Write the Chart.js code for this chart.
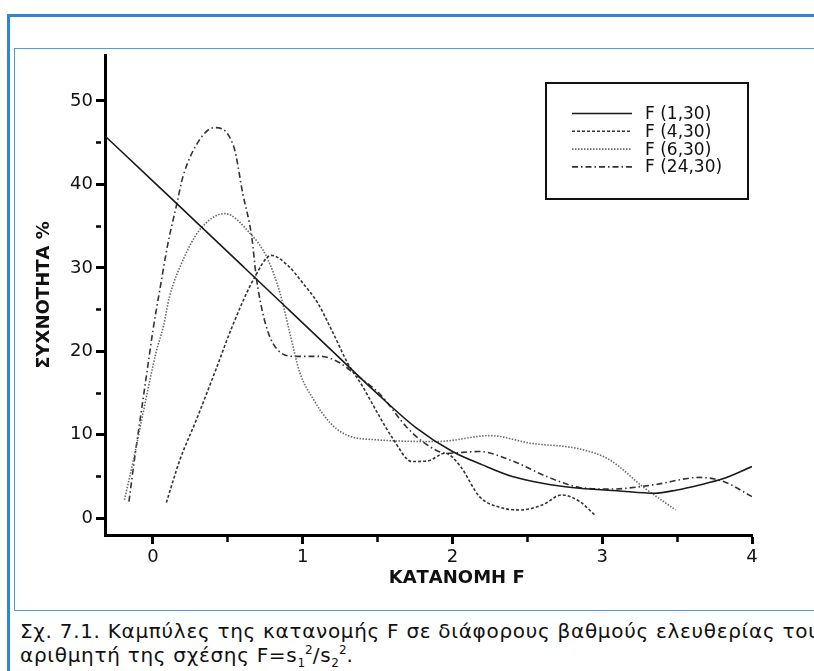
<!DOCTYPE html>
<html lang="el">
<head>
<meta charset="utf-8">
<title>Καμπύλες της κατανομής F</title>
<script src="https://cdn.jsdelivr.net/npm/chart.js@4.4.0/dist/chart.umd.min.js"></script>
<style>
  html, body { margin: 0; padding: 0; background: #fff; overflow: hidden; }
  body { width: 814px; height: 671px; position: relative; }
  #outer {
    position: absolute; left: 7px; top: 14px; width: 900px; height: 700px;
    border-top: 3px solid #2b86d8; border-left: 3px solid #2b86d8;
  }
  #inner {
    position: absolute; left: 14px; top: 48px; width: 900px; height: 561px;
    border: 1.5px solid #4d9ce2;
  }
  #chartBox { position: absolute; left: 15px; top: 50px; width: 800px; height: 560px; }
  #caption {
    position: absolute; left: 20px; top: 619px; white-space: nowrap;
    font-family: "DejaVu Sans", sans-serif; font-size: 20px; letter-spacing: 0.7px;
    line-height: 24px; color: #111;
  }
  #caption sub, #caption sup { font-size: 12px; line-height: 0; letter-spacing: 0; }
</style>
</head>
<body>
<div id="outer"></div>
<div id="inner"></div>
<div id="chartBox"><canvas id="chart" width="800" height="560"></canvas></div>
<div id="caption">Σχ. 7.1. Καμπύλες της κατανομής F σε διάφορους βαθμούς ελευθερίας του<br>αριθμητή της σχέσης F=s<sub>1</sub><sup>2</sup>/s<sub>2</sub><sup>2</sup>.</div>
<script>
// καμπύλες (τιμές διαβασμένες από το σχήμα)
const f1_x = [-0.32, 0, 0.3, 0.6, 0.9, 1.2, 1.5, 1.76, 2.0, 2.2, 2.4, 2.6, 2.85, 3.1, 3.35, 3.5, 3.65, 3.8, 4.0];
const f1_y = [45.8, 40.4, 35.3, 30.2, 25.1, 20.0, 14.9, 10.8, 8.0, 6.4, 5.0, 4.2, 3.6, 3.3, 3.0, 3.4, 4.0, 4.7, 6.2];

const f4_x = [0.09, 0.18, 0.29, 0.42, 0.53, 0.68, 0.79, 0.9, 1.0, 1.1, 1.2, 1.3, 1.4, 1.5, 1.6, 1.73, 1.84, 1.95, 2.05, 2.18, 2.3, 2.45, 2.6, 2.73, 2.85, 2.95];
const f4_y = [1.9, 7.0, 11.8, 17.8, 23.0, 28.9, 31.5, 30.3, 28.2, 25.8, 22.3, 18.6, 15.8, 12.6, 9.6, 6.8, 6.9, 7.8, 6.3, 2.6, 1.4, 1.0, 1.6, 2.8, 2.0, 0.4];

const f6_x = [-0.19, -0.13, -0.075, 0.02, 0.07, 0.11, 0.2, 0.31, 0.48, 0.65, 0.76, 0.85, 0.91, 0.98, 1.07, 1.18, 1.29, 1.5, 1.9, 2.25, 2.52, 2.85, 3.05, 3.27, 3.49];
const f6_y = [2.2, 7.0, 11.8, 19.8, 23.0, 26.5, 30.9, 34.5, 36.5, 34.1, 31.3, 26.9, 22.5, 17.5, 14.3, 11.5, 10.0, 9.4, 9.2, 9.9, 9.0, 8.3, 7.0, 3.8, 1.0];

const f24_x = [-0.16, -0.12, -0.08, -0.04, 0.0, 0.05, 0.10, 0.16, 0.2, 0.31, 0.41, 0.54, 0.6, 0.66, 0.69, 0.74, 0.8, 0.94, 1.12, 1.25, 1.34, 1.52, 1.69, 1.8, 1.96, 2.18, 2.41, 2.63, 2.85, 3.05, 3.34, 3.65, 3.81, 4.0];
const f24_y = [2.0, 7.5, 12.5, 17.5, 22.5, 27.8, 32.9, 37.7, 40.9, 45.3, 46.8, 44.5, 38.9, 33.7, 28.9, 24.1, 21.0, 19.4, 19.4, 18.6, 17.4, 14.8, 11.0, 9.2, 7.8, 8.0, 6.8, 5.0, 3.7, 3.5, 4.0, 4.9, 4.4, 2.6];

const seriesNames = ['F (1,30)', 'F (4,30)', 'F (6,30)', 'F (24,30)'];

// άξονες
const xTicks = [0, 0.5, 1, 1.5, 2, 2.5, 3, 3.5, 4];
const xTickLabels = ['0', '', '1', '', '2', '', '3', '', '4'];
const yTicks = [0, 5, 10, 15, 20, 25, 30, 35, 40, 45, 50];
const yTickLabels = ['0', '', '10', '', '20', '', '30', '', '40', '', '50'];

const FONT = '"DejaVu Sans", Verdana, sans-serif';

function toPoints(xs, ys) {
  return xs.map((x, i) => ({ x: x, y: ys[i] }));
}

// πλαίσιο υπομνήματος με δείγματα γραμμών
const boxLegend = {
  id: 'boxLegend',
  afterDraw(chart, args, opts) {
    const ctx = chart.ctx;
    const area = chart.chartArea;
    const left = area.left + opts.offsetX;
    const top = area.top + opts.offsetY;
    ctx.save();
    ctx.lineWidth = 2;
    ctx.strokeStyle = '#111';
    ctx.setLineDash([]);
    ctx.strokeRect(left, top, opts.width, opts.height);
    ctx.font = opts.fontSize + 'px ' + FONT;
    ctx.fillStyle = '#111';
    ctx.textBaseline = 'middle';
    chart.data.datasets.forEach((ds, i) => {
      const y = top + opts.firstRow + i * opts.rowGap;
      ctx.beginPath();
      ctx.strokeStyle = ds.borderColor;
      ctx.lineWidth = ds.borderWidth;
      ctx.setLineDash(ds.borderDash || []);
      ctx.moveTo(left + 26, y);
      ctx.lineTo(left + 86, y);
      ctx.stroke();
      ctx.setLineDash([]);
      ctx.fillText(ds.label, left + 99, y + 1);
    });
    ctx.restore();
  }
};

// ο άξονας δεν κρατά επιπλέον περιθώριο για τις ετικέτες
function noLabelPadding(s) {
  s.paddingTop = 0;
  s.paddingBottom = 0;
  s.paddingLeft = 0;
  s.paddingRight = 0;
}

const ctx = document.getElementById('chart').getContext('2d');
const chart = new Chart(ctx, {
  type: 'line',
  data: {
    datasets: [
      { label: seriesNames[0], data: toPoints(f1_x, f1_y), borderColor: '#1a1a1a', borderWidth: 1.6, borderDash: [] },
      { label: seriesNames[1], data: toPoints(f4_x, f4_y), borderColor: '#333', borderWidth: 1.6, borderDash: [3, 2] },
      { label: seriesNames[2], data: toPoints(f6_x, f6_y), borderColor: '#6a6a6a', borderWidth: 1.6, borderDash: [1.5, 1.5] },
      { label: seriesNames[3], data: toPoints(f24_x, f24_y), borderColor: '#333', borderWidth: 1.6, borderDash: [6, 3, 1.5, 3] }
    ]
  },
  options: {
    responsive: false,
    animation: false,
    events: [],
    layout: { padding: { top: 5, right: 63, left: 0, bottom: 0 } },
    elements: {
      point: { radius: 0 },
      line: { cubicInterpolationMode: 'monotone', fill: false }
    },
    plugins: {
      legend: { display: false },
      tooltip: { enabled: false },
      boxLegend: { offsetX: 441, offsetY: 28, width: 202, height: 116, firstRow: 30.5, rowGap: 17.8, fontSize: 17 }
    },
    scales: {
      x: {
        type: 'linear',
        min: -0.32,
        max: 4,
        afterBuildTicks: s => { s.ticks = xTicks.map(v => ({ value: v })); },
        afterFit: s => { s.height = 75; noLabelPadding(s); },
        border: { display: true, color: '#000', width: 3 },
        grid: {
          drawOnChartArea: false,
          tickLength: 9,
          tickColor: '#000',
          tickWidth: c => (c.tick && c.tick.value % 1 !== 0) ? 2.5 : 3,
          tickBorderDash: c => (c.tick && c.tick.value % 1 !== 0) ? [5, 40] : []
        },
        ticks: {
          autoSkip: false,
          maxRotation: 0,
          padding: 3,
          color: '#111',
          font: { family: FONT, size: 18 },
          callback: (v, i) => xTickLabels[i]
        },
        title: {
          display: true,
          text: ' '.repeat(9) + 'ΚΑΤΑΝΟΜΗ F',
          color: '#111',
          font: { family: FONT, size: 18, weight: 'bold' },
          padding: { top: 0, bottom: 21 }
        }
      },
      y: {
        type: 'linear',
        min: -2,
        max: 55.5,
        afterBuildTicks: s => { s.ticks = yTicks.map(v => ({ value: v })); },
        afterFit: s => { s.width = 90; noLabelPadding(s); },
        border: { display: true, color: '#000', width: 3 },
        grid: {
          drawOnChartArea: false,
          tickLength: 9,
          tickColor: '#000',
          tickWidth: c => (c.tick && c.tick.value % 10 !== 0) ? 2.5 : 3,
          tickBorderDash: c => (c.tick && c.tick.value % 10 !== 0) ? [5, 40] : []
        },
        ticks: {
          autoSkip: false,
          padding: 3,
          color: '#111',
          font: { family: FONT, size: 18 },
          callback: (v, i) => yTickLabels[i]
        },
        title: {
          display: true,
          text: 'ΣΥΧΝΟΤΗΤΑ %',
          color: '#111',
          font: { family: FONT, size: 18, weight: 'bold' },
          padding: { top: 19, bottom: 0 }
        }
      }
    }
  },
  plugins: [boxLegend]
});
</script>
</body>
</html>
